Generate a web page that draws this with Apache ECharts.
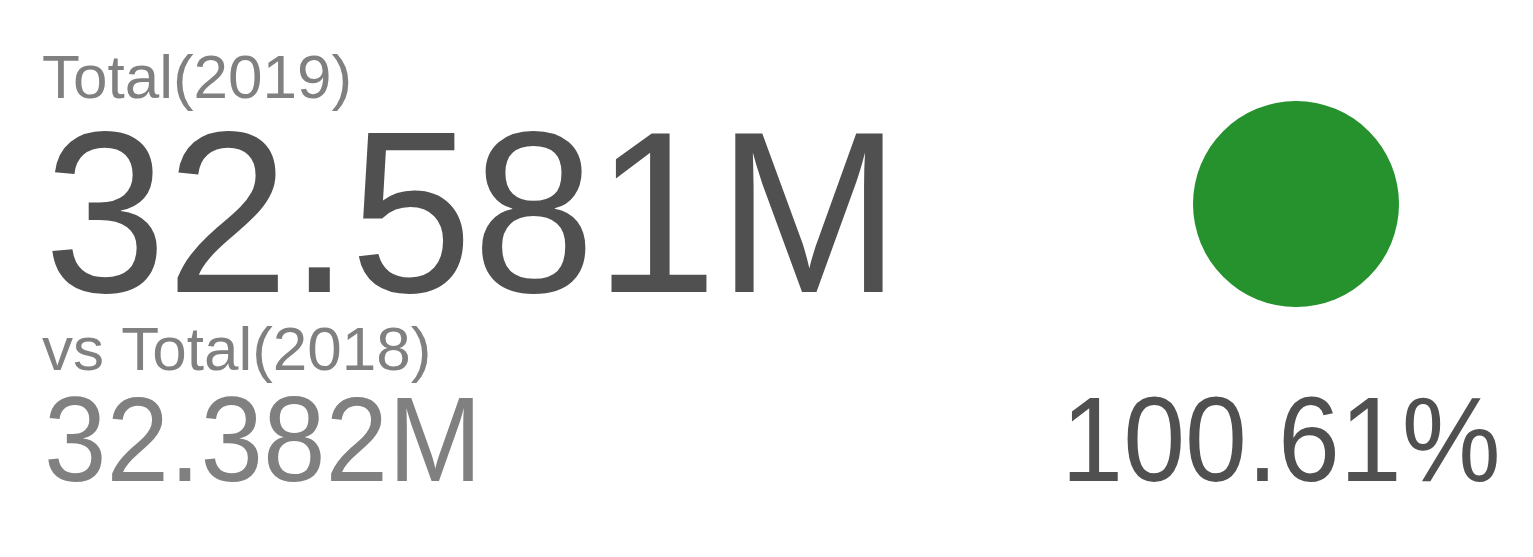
<!DOCTYPE html>
<html><head><meta charset="utf-8">
<script src="https://cdn.jsdelivr.net/npm/echarts@6/dist/echarts.min.js"></script>
<style>html,body{margin:0;padding:0;background:#fff}#c{width:1533px;height:557px}</style>
</head><body><div id="c"></div>
<script>
const mainLabel = "Total(2019)";
const mainValue = "32.581M";
const compareLabel = "vs Total(2018)";
const compareValue = "32.382M";
const ratioText = "100.61%";
const indicatorData = [100];

const chart = echarts.init(document.getElementById('c'));
const ff = '"Liberation Sans", Arial, sans-serif';
function txt(x, y, text, size, color, align, sx) {
  return { type: 'text', x: x, y: y, scaleX: sx || 1, style: { text: text, font: size + 'px ' + ff, fill: color, align: align || 'left', verticalAlign: 'middle' } };
}
chart.setOption({
  animation: false,
  series: [{
    type: 'pie', center: [1296, 204], radius: [0, 103], silent: true,
    label: { show: false }, labelLine: { show: false },
    itemStyle: { color: '#25922E' },
    data: indicatorData.map(v => ({ value: v }))
  }],
  graphic: [
    txt(42, 81, mainLabel, 62, '#808080'),
    txt(44, 229, mainValue, 230, '#505050', 'left', 0.957),
    txt(42, 353, compareLabel, 62, '#808080', 'left', 1.0),
    txt(44, 448, compareValue, 121, '#808080', 'left', 0.93),
    txt(1281, 448, ratioText, 121, '#505050', 'center', 0.92)
  ]
});
</script></body></html>
